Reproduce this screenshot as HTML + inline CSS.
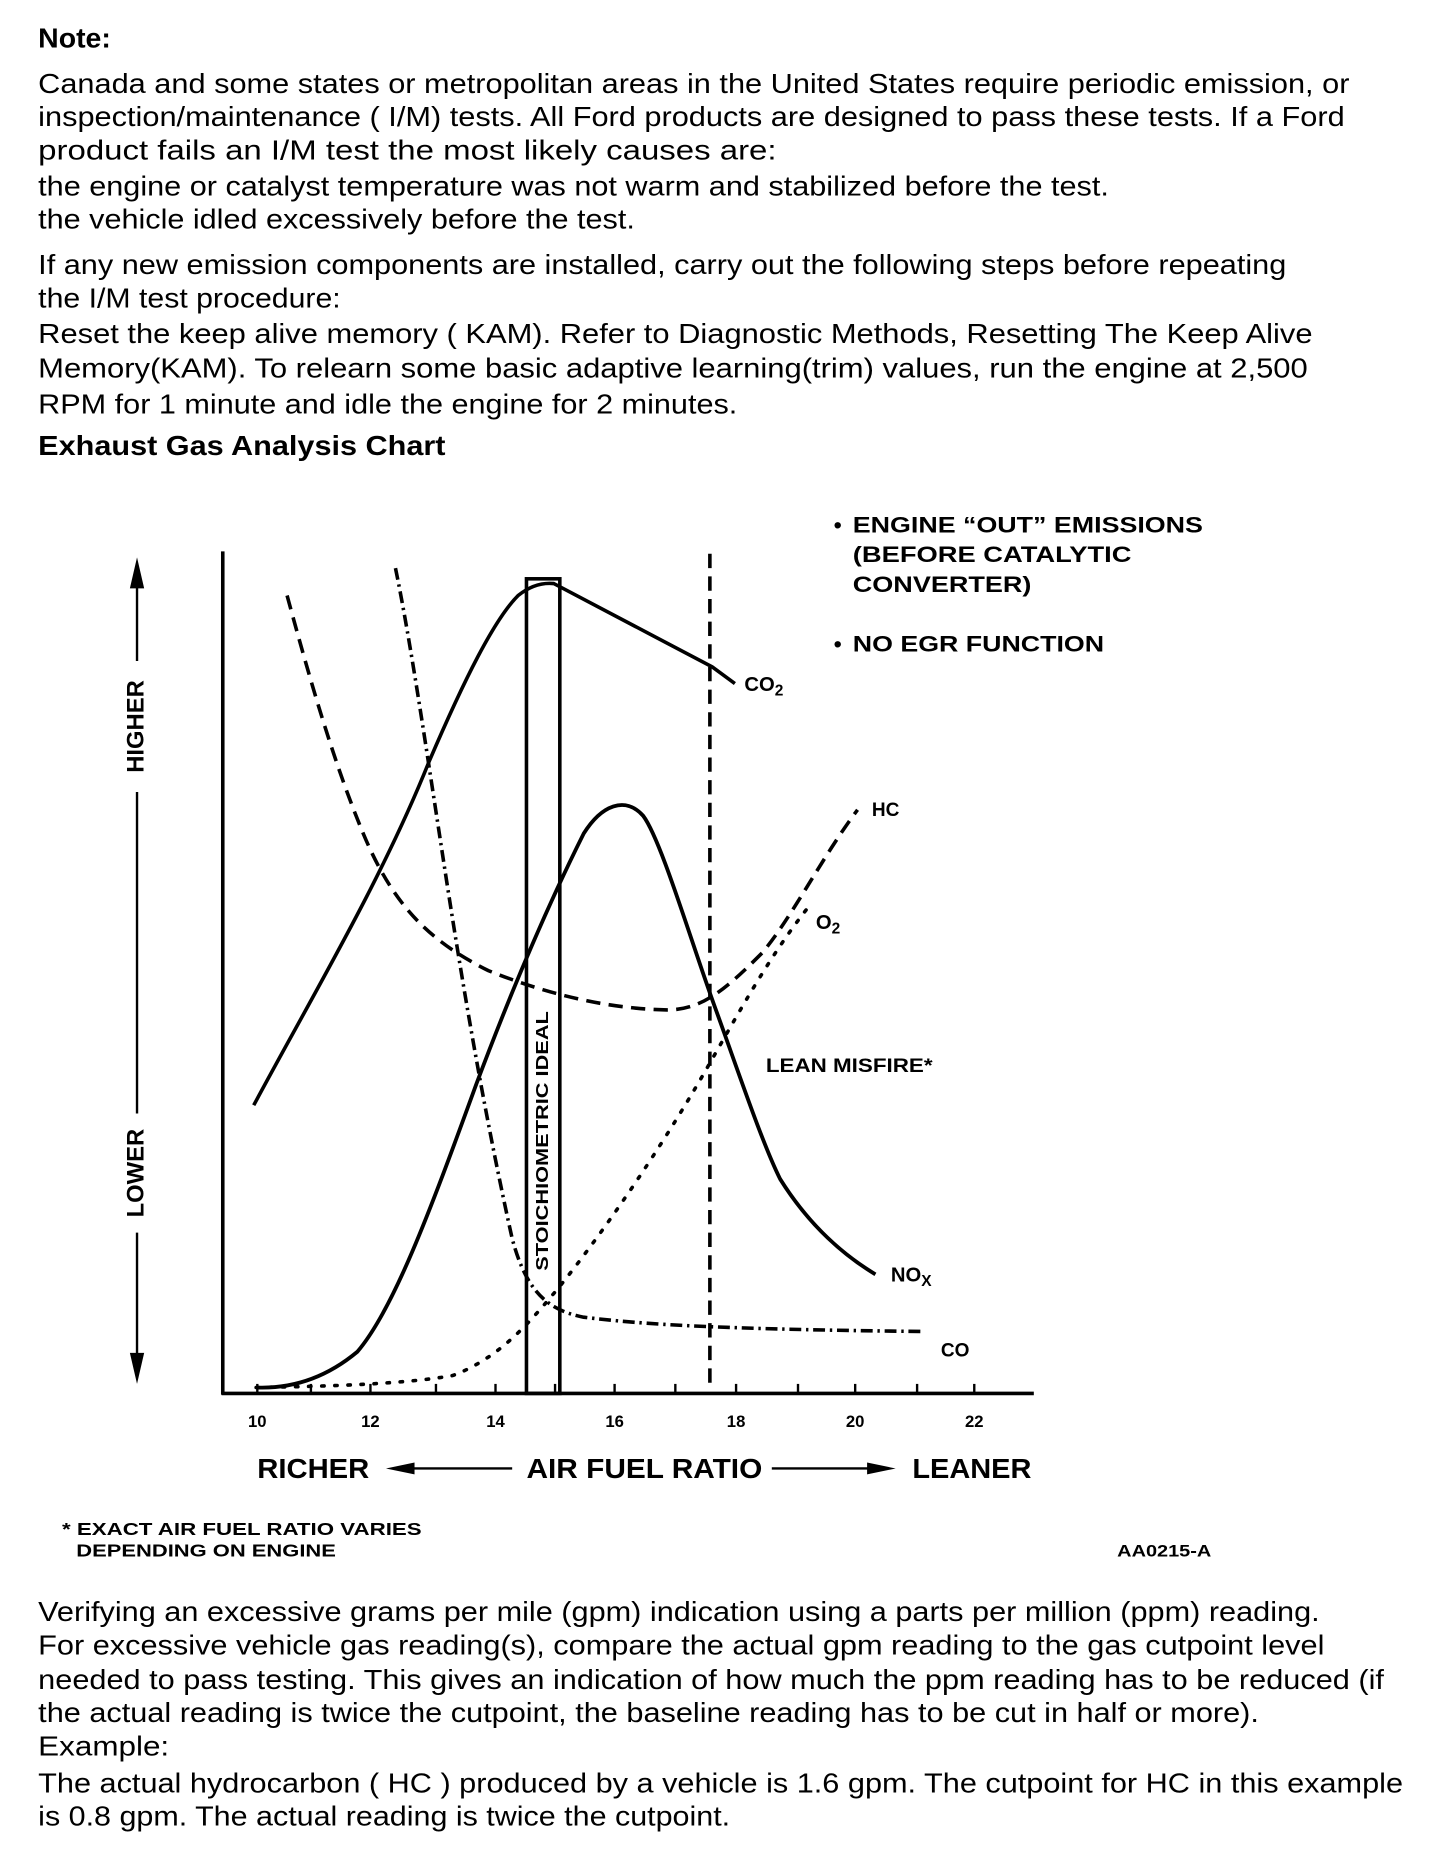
<!DOCTYPE html>
<html><head><meta charset="utf-8"><style>
html,body{margin:0;padding:0;background:#fff;width:1440px;height:1856px;overflow:hidden}
svg{display:block}
.t{font-family:"Liberation Sans",Arial,sans-serif;font-size:23px;fill:#000}
.b{font-weight:bold}
.c{font-family:"Liberation Sans",Arial,sans-serif;font-weight:bold;fill:#000}
</style></head><body>
<svg width="1440" height="1856" viewBox="0 0 1209 1558.4" xmlns="http://www.w3.org/2000/svg">
<g class="t">
<text class="b" x="32" y="40" textLength="61" lengthAdjust="spacingAndGlyphs">Note:</text>
<text x="32" y="78" textLength="1101" lengthAdjust="spacingAndGlyphs">Canada and some states or metropolitan areas in the United States require periodic emission, or</text>
<text x="32" y="106" textLength="1097" lengthAdjust="spacingAndGlyphs">inspection/maintenance ( I/M) tests. All Ford products are designed to pass these tests. If a Ford</text>
<text x="32" y="134" textLength="620" lengthAdjust="spacingAndGlyphs">product fails an I/M test the most likely causes are:</text>
<text x="32" y="164" textLength="899" lengthAdjust="spacingAndGlyphs">the engine or catalyst temperature was not warm and stabilized before the test.</text>
<text x="32" y="192" textLength="501" lengthAdjust="spacingAndGlyphs">the vehicle idled excessively before the test.</text>
<text x="32" y="230" textLength="1048" lengthAdjust="spacingAndGlyphs">If any new emission components are installed, carry out the following steps before repeating</text>
<text x="32" y="258" textLength="254" lengthAdjust="spacingAndGlyphs">the I/M test procedure:</text>
<text x="32" y="288" textLength="1070" lengthAdjust="spacingAndGlyphs">Reset the keep alive memory ( KAM). Refer to Diagnostic Methods, Resetting The Keep Alive</text>
<text x="32" y="317" textLength="1066" lengthAdjust="spacingAndGlyphs">Memory(KAM). To relearn some basic adaptive learning(trim) values, run the engine at 2,500</text>
<text x="32" y="347" textLength="587" lengthAdjust="spacingAndGlyphs">RPM for 1 minute and idle the engine for 2 minutes.</text>
<text class="b" x="32" y="382" textLength="342" lengthAdjust="spacingAndGlyphs">Exhaust Gas Analysis Chart</text>
<text x="32" y="1361" textLength="1076" lengthAdjust="spacingAndGlyphs">Verifying an excessive grams per mile (gpm) indication using a parts per million (ppm) reading.</text>
<text x="32" y="1389" textLength="1080" lengthAdjust="spacingAndGlyphs">For excessive vehicle gas reading(s), compare the actual gpm reading to the gas cutpoint level</text>
<text x="32" y="1418" textLength="1130" lengthAdjust="spacingAndGlyphs">needed to pass testing. This gives an indication of how much the ppm reading has to be reduced (if</text>
<text x="32" y="1446" textLength="1025" lengthAdjust="spacingAndGlyphs">the actual reading is twice the cutpoint, the baseline reading has to be cut in half or more).</text>
<text x="32" y="1474" textLength="110" lengthAdjust="spacingAndGlyphs">Example:</text>
<text x="32" y="1505" textLength="1146" lengthAdjust="spacingAndGlyphs">The actual hydrocarbon ( HC ) produced by a vehicle is 1.6 gpm. The cutpoint for HC in this example</text>
<text x="32" y="1533" textLength="581" lengthAdjust="spacingAndGlyphs">is 0.8 gpm. The actual reading is twice the cutpoint.</text>
</g>

<g stroke="#000" fill="none">
<line x1="187" y1="463" x2="187" y2="1171" stroke-width="3"/>
<line x1="186" y1="1170" x2="868" y2="1170" stroke-width="3"/>
<g stroke-width="2">
<line x1="216" y1="1170" x2="216" y2="1162"/><line x1="261" y1="1170" x2="261" y2="1162"/>
<line x1="311" y1="1170" x2="311" y2="1162"/><line x1="366" y1="1170" x2="366" y2="1162"/>
<line x1="416" y1="1170" x2="416" y2="1162"/><line x1="466" y1="1170" x2="466" y2="1162"/>
<line x1="516" y1="1170" x2="516" y2="1162"/><line x1="567" y1="1170" x2="567" y2="1162"/>
<line x1="618" y1="1170" x2="618" y2="1162"/><line x1="670" y1="1170" x2="670" y2="1162"/>
<line x1="718" y1="1170" x2="718" y2="1162"/><line x1="770" y1="1170" x2="770" y2="1162"/>
<line x1="818" y1="1170" x2="818" y2="1162"/>
</g>
<rect x="442" y="486" width="28" height="684" stroke-width="3"/>
<line x1="596" y1="465" x2="596" y2="1168" stroke-width="3" stroke-dasharray="12,7"/>
<path d="M213,928 C260,840 320,740 360,640 C390,570 415,520 435,500 C445,492 455,489 465,490 L598,560 L617,574" stroke-width="3"/>
<path d="M215,1165 C240,1166 270,1160 300,1135 C330,1100 360,1020 400,910 C430,830 460,760 490,700 C505,676 525,668 540,685 C555,705 580,790 600,845 C620,900 640,960 655,990 C680,1030 710,1055 735,1070" stroke-width="3.2"/>
<path d="M241,500 C260,570 280,640 305,700 C330,760 360,790 410,815 C460,835 510,847 560,848 C590,848 610,830 640,800 C665,770 690,720 720,680" stroke-width="3" stroke-dasharray="12,7"/>
<path d="M332,477 C345,540 358,630 375,740 C392,850 410,950 430,1040 C442,1085 460,1100 490,1106 C540,1112 600,1116 775,1118" stroke-width="3" stroke-dasharray="10,4,2,4"/>
<path d="M215,1165 C280,1164 340,1162 380,1155 C420,1140 445,1110 470,1080 C510,1030 550,970 580,920 C610,870 640,810 680,760" stroke-width="3" stroke-dasharray="2,9" stroke-linecap="round"/>
<line x1="115" y1="480" x2="115" y2="555" stroke-width="2"/>
<line x1="115" y1="665" x2="115" y2="935" stroke-width="2"/>
<line x1="115" y1="1035" x2="115" y2="1150" stroke-width="2"/>
<line x1="330" y1="1233" x2="430" y2="1233" stroke-width="2"/>
<line x1="648" y1="1233" x2="742" y2="1233" stroke-width="2"/>
</g>
<polygon points="115,468 109,494 121,494" fill="#000"/>
<polygon points="115,1162 109,1136 121,1136" fill="#000"/>
<polygon points="324,1233 348,1228 348,1238" fill="#000"/>
<polygon points="752,1233 728,1228 728,1238" fill="#000"/>

<g class="c">
<text x="115" y="610" font-size="20" text-anchor="middle" dominant-baseline="middle" transform="rotate(-90 115 610)">HIGHER</text>
<text x="115" y="985" font-size="20" text-anchor="middle" dominant-baseline="middle" transform="rotate(-90 115 985)">LOWER</text>
<text x="456" y="958" font-size="15" text-anchor="middle" dominant-baseline="middle" transform="rotate(-90 456 958)" textLength="218" lengthAdjust="spacingAndGlyphs">STOICHIOMETRIC IDEAL</text>
<g font-size="14" text-anchor="middle">
<text x="216" y="1198">10</text><text x="311" y="1198">12</text><text x="416" y="1198">14</text>
<text x="516" y="1198">16</text><text x="618" y="1198">18</text><text x="718" y="1198">20</text><text x="818" y="1198">22</text>
</g>
<text x="216" y="1241" font-size="23" textLength="94" lengthAdjust="spacingAndGlyphs">RICHER</text>
<text x="442" y="1241" font-size="23" textLength="198" lengthAdjust="spacingAndGlyphs">AIR FUEL RATIO</text>
<text x="766" y="1241" font-size="23" textLength="100" lengthAdjust="spacingAndGlyphs">LEANER</text>
<g font-size="19">
<text x="700" y="447">•</text>
<text x="716" y="447" textLength="294" lengthAdjust="spacingAndGlyphs">ENGINE “OUT” EMISSIONS</text>
<text x="716" y="472" textLength="234" lengthAdjust="spacingAndGlyphs">(BEFORE CATALYTIC</text>
<text x="716" y="497" textLength="150" lengthAdjust="spacingAndGlyphs">CONVERTER)</text>
<text x="700" y="547">•</text>
<text x="716" y="547" textLength="211" lengthAdjust="spacingAndGlyphs">NO EGR FUNCTION</text>
</g>
<text x="625" y="580" font-size="17">CO<tspan font-size="13" dy="4">2</tspan></text>
<text x="732" y="685" font-size="16">HC</text>
<text x="685" y="780" font-size="17">O<tspan font-size="13" dy="4">2</tspan></text>
<text x="643" y="900" font-size="16" textLength="140" lengthAdjust="spacingAndGlyphs">LEAN MISFIRE*</text>
<text x="748" y="1076" font-size="17">NO<tspan font-size="13" dy="4">X</tspan></text>
<text x="790" y="1139" font-size="16">CO</text>
<text x="52" y="1289" font-size="15" textLength="302" lengthAdjust="spacingAndGlyphs">* EXACT AIR FUEL RATIO VARIES</text>
<text x="64" y="1307" font-size="15" textLength="218" lengthAdjust="spacingAndGlyphs">DEPENDING ON ENGINE</text>
<text x="938" y="1307" font-size="14" textLength="79" lengthAdjust="spacingAndGlyphs">AA0215-A</text>
</g>
</svg>
</body></html>
